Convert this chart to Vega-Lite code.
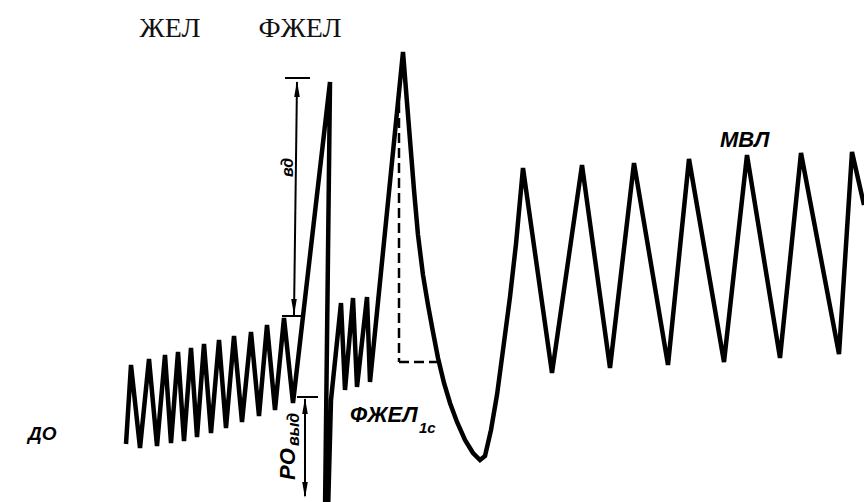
{
  "$schema": "https://vega.github.io/schema/vega-lite/v6.json",
  "width": 864,
  "height": 502,
  "padding": 0,
  "autosize": {"type": "fit", "contains": "padding"},
  "background": "white",
  "config": {"view": {"stroke": null}},
  "datasets": {
    "trace": [
      {"i":0,"t":126,"v":58},{"i":1,"t":131,"v":137},{"i":2,"t":140,"v":54},{"i":3,"t":149,"v":143},
      {"i":4,"t":157,"v":56},{"i":5,"t":165,"v":147},{"i":6,"t":171,"v":59},{"i":7,"t":178,"v":150},
      {"i":8,"t":184,"v":61},{"i":9,"t":191,"v":154},{"i":10,"t":197,"v":65},{"i":11,"t":204,"v":158},
      {"i":12,"t":211,"v":69},{"i":13,"t":219,"v":162},{"i":14,"t":226,"v":74},{"i":15,"t":234,"v":166},
      {"i":16,"t":242,"v":80},{"i":17,"t":251,"v":170},{"i":18,"t":259,"v":86},{"i":19,"t":267,"v":177},
      {"i":20,"t":275,"v":92},{"i":21,"t":284,"v":184},{"i":22,"t":293,"v":99},{"i":23,"t":330,"v":420},
      {"i":24,"t":325,"v":-10},{"i":25,"t":328,"v":-10},{"i":26,"t":331,"v":102},{"i":27,"t":341,"v":199},
      {"i":28,"t":345,"v":112},{"i":29,"t":353,"v":204},{"i":30,"t":357,"v":115},{"i":31,"t":367,"v":205},
      {"i":32,"t":370,"v":120},{"i":33,"t":403,"v":450},{"i":34,"t":406,"v":412},{"i":35,"t":410,"v":362},
      {"i":36,"t":414,"v":312},{"i":37,"t":418,"v":267},{"i":38,"t":423,"v":227},{"i":39,"t":428,"v":197},
      {"i":40,"t":433,"v":170},{"i":41,"t":438,"v":144},{"i":42,"t":444,"v":119},{"i":43,"t":450,"v":99},
      {"i":44,"t":457,"v":80},{"i":45,"t":465,"v":62},{"i":46,"t":473,"v":49},{"i":47,"t":480,"v":42},
      {"i":48,"t":485,"v":46},{"i":49,"t":491,"v":72},{"i":50,"t":497,"v":107},{"i":51,"t":503,"v":152},
      {"i":52,"t":510,"v":205},{"i":53,"t":516,"v":258},{"i":54,"t":523,"v":334},{"i":55,"t":552,"v":129},
      {"i":56,"t":582,"v":337},{"i":57,"t":610,"v":134},{"i":58,"t":634,"v":339},{"i":59,"t":668,"v":137},
      {"i":60,"t":689,"v":343},{"i":61,"t":724,"v":140},{"i":62,"t":747,"v":347},{"i":63,"t":780,"v":144},
      {"i":64,"t":801,"v":349},{"i":65,"t":839,"v":148},{"i":66,"t":852,"v":350},{"i":67,"t":864,"v":297}
    ],
    "dash": [
      {"t":399,"v":414,"t2":399,"v2":140},
      {"t":399,"v":140,"t2":437,"v2":140}
    ],
    "guides": [
      {"t":297,"v":420,"t2":294,"v2":187},
      {"t":285,"v":424,"t2":310,"v2":424},
      {"t":282,"v":186,"t2":302,"v2":186},
      {"t":305,"v":103,"t2":305,"v2":6},
      {"t":297,"v":105,"t2":318,"v2":105}
    ],
    "heads": [
      {"t":297,"v":413,"dir":"up"},
      {"t":294,"v":195,"dir":"down"},
      {"t":305,"v":96,"dir":"up"},
      {"t":305,"v":12,"dir":"down"}
    ],
    "serif": [
      {"t":170,"v":465,"label":"ЖЕЛ"},
      {"t":300,"v":465,"label":"ФЖЕЛ"}
    ],
    "bold": [
      {"t":720,"v":355,"label":"МВЛ"},
      {"t":350,"v":80,"label":"ФЖЕЛ"}
    ],
    "do": [{"t":28,"v":62,"label":"ДО"}],
    "sub": [{"t":419,"v":69,"label":"1с"}],
    "ro": [{"t":295,"v":22,"label":"РО"}],
    "rosub": [
      {"t":299,"v":56,"label":"выд"},
      {"t":293,"v":325,"label":"вд"}
    ]
  },
  "layer": [
    {
      "data": {"name": "trace"},
      "mark": {"type": "line", "color": "black", "strokeWidth": 4.5, "clip": true, "strokeJoin": "miter", "strokeMiterLimit": 4},
      "encoding": {
        "x": {"field": "t", "type": "quantitative", "scale": {"domain": [0, 864], "nice": false, "zero": false}, "axis": null},
        "y": {"field": "v", "type": "quantitative", "scale": {"domain": [0, 502], "nice": false, "zero": false}, "axis": null},
        "order": {"field": "i", "type": "quantitative"}
      }
    },
    {
      "data": {"name": "dash"},
      "mark": {"type": "rule", "color": "black", "strokeWidth": 2.5, "strokeDash": [10, 5]},
      "encoding": {
        "x": {"field": "t", "type": "quantitative", "scale": {"domain": [0, 864], "nice": false, "zero": false}, "axis": null},
        "y": {"field": "v", "type": "quantitative", "scale": {"domain": [0, 502], "nice": false, "zero": false}, "axis": null},
        "x2": {"field": "t2"},
        "y2": {"field": "v2"}
      }
    },
    {
      "data": {"name": "guides"},
      "mark": {"type": "rule", "color": "black", "strokeWidth": 2},
      "encoding": {
        "x": {"field": "t", "type": "quantitative", "scale": {"domain": [0, 864], "nice": false, "zero": false}, "axis": null},
        "y": {"field": "v", "type": "quantitative", "scale": {"domain": [0, 502], "nice": false, "zero": false}, "axis": null},
        "x2": {"field": "t2"},
        "y2": {"field": "v2"}
      }
    },
    {
      "data": {"name": "heads"},
      "mark": {"type": "point", "filled": true, "color": "black", "opacity": 1, "size": 256, "strokeWidth": 0},
      "encoding": {
        "x": {"field": "t", "type": "quantitative", "scale": {"domain": [0, 864], "nice": false, "zero": false}, "axis": null},
        "y": {"field": "v", "type": "quantitative", "scale": {"domain": [0, 502], "nice": false, "zero": false}, "axis": null},
        "shape": {"field": "dir", "type": "nominal", "legend": null, "scale": {"domain": ["up", "down"], "range": ["M0,-1L0.35,1L-0.35,1Z", "M0,1L0.35,-1L-0.35,-1Z"]}}
      }
    },
    {
      "data": {"name": "serif"},
      "mark": {"type": "text", "font": "Liberation Serif", "fontSize": 28, "color": "#111", "align": "center", "baseline": "alphabetic"},
      "encoding": {
        "x": {"field": "t", "type": "quantitative", "scale": {"domain": [0, 864], "nice": false, "zero": false}, "axis": null},
        "y": {"field": "v", "type": "quantitative", "scale": {"domain": [0, 502], "nice": false, "zero": false}, "axis": null},
        "text": {"field": "label"}
      }
    },
    {
      "data": {"name": "bold"},
      "mark": {"type": "text", "font": "Liberation Sans", "fontSize": 22, "fontStyle": "italic", "fontWeight": "bold", "color": "black", "align": "left", "baseline": "alphabetic"},
      "encoding": {
        "x": {"field": "t", "type": "quantitative", "scale": {"domain": [0, 864], "nice": false, "zero": false}, "axis": null},
        "y": {"field": "v", "type": "quantitative", "scale": {"domain": [0, 502], "nice": false, "zero": false}, "axis": null},
        "text": {"field": "label"}
      }
    },
    {
      "data": {"name": "do"},
      "mark": {"type": "text", "font": "Liberation Sans", "fontSize": 19, "fontStyle": "italic", "fontWeight": "bold", "color": "black", "align": "left", "baseline": "alphabetic"},
      "encoding": {
        "x": {"field": "t", "type": "quantitative", "scale": {"domain": [0, 864], "nice": false, "zero": false}, "axis": null},
        "y": {"field": "v", "type": "quantitative", "scale": {"domain": [0, 502], "nice": false, "zero": false}, "axis": null},
        "text": {"field": "label"}
      }
    },
    {
      "data": {"name": "sub"},
      "mark": {"type": "text", "font": "Liberation Sans", "fontSize": 15, "fontStyle": "italic", "fontWeight": "bold", "color": "black", "align": "left", "baseline": "alphabetic"},
      "encoding": {
        "x": {"field": "t", "type": "quantitative", "scale": {"domain": [0, 864], "nice": false, "zero": false}, "axis": null},
        "y": {"field": "v", "type": "quantitative", "scale": {"domain": [0, 502], "nice": false, "zero": false}, "axis": null},
        "text": {"field": "label"}
      }
    },
    {
      "data": {"name": "ro"},
      "mark": {"type": "text", "font": "Liberation Sans", "fontSize": 22, "fontStyle": "italic", "fontWeight": "bold", "color": "black", "align": "left", "baseline": "alphabetic", "angle": 270},
      "encoding": {
        "x": {"field": "t", "type": "quantitative", "scale": {"domain": [0, 864], "nice": false, "zero": false}, "axis": null},
        "y": {"field": "v", "type": "quantitative", "scale": {"domain": [0, 502], "nice": false, "zero": false}, "axis": null},
        "text": {"field": "label"}
      }
    },
    {
      "data": {"name": "rosub"},
      "mark": {"type": "text", "font": "Liberation Sans", "fontSize": 16, "fontStyle": "italic", "fontWeight": "bold", "color": "black", "align": "left", "baseline": "alphabetic", "angle": 270},
      "encoding": {
        "x": {"field": "t", "type": "quantitative", "scale": {"domain": [0, 864], "nice": false, "zero": false}, "axis": null},
        "y": {"field": "v", "type": "quantitative", "scale": {"domain": [0, 502], "nice": false, "zero": false}, "axis": null},
        "text": {"field": "label"}
      }
    }
  ]
}
